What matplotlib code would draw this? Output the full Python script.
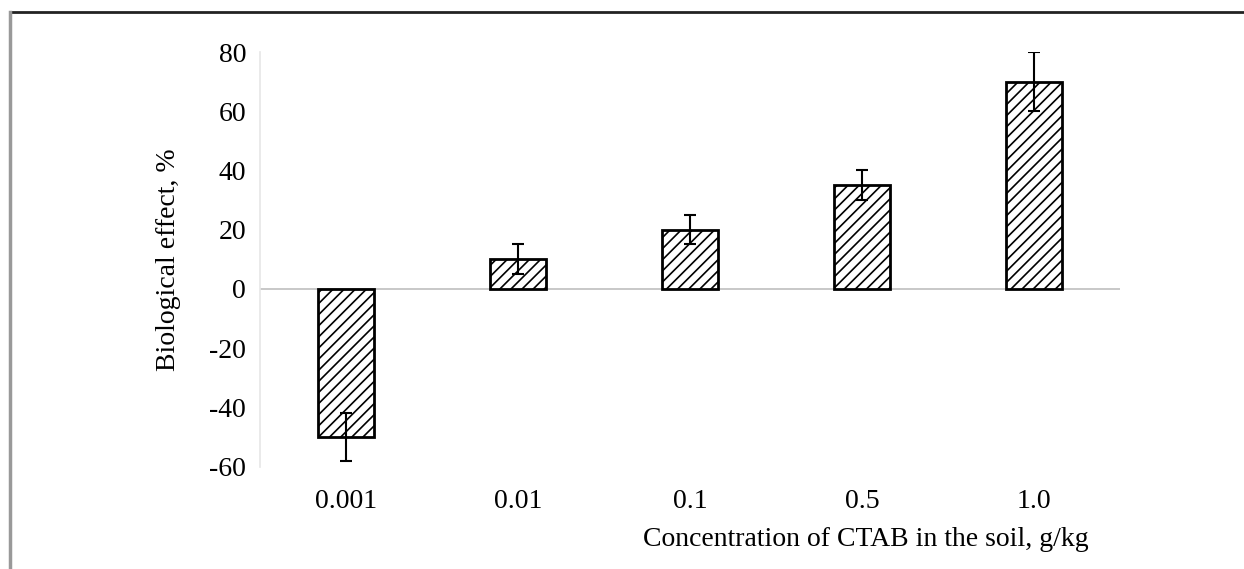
import matplotlib
matplotlib.use("Agg")
import matplotlib.pyplot as plt
from matplotlib.lines import Line2D

categories = ["0.001", "0.01", "0.1", "0.5", "1.0"]
values = [-50, 10, 20, 35, 70]
errors = [8, 5, 5, 5, 10]
y_ticks = [-60, -40, -20, 0, 20, 40, 60, 80]

plt.rcParams['font.family'] = ['Liberation Serif', 'DejaVu Serif']
plt.rcParams['hatch.linewidth'] = 1.2

fs = 20

fig = plt.figure(figsize=(12.44, 5.69), dpi=100)
ax = fig.add_axes([0.209, 0.18, 0.6913, 0.7286])

x = list(range(len(categories)))
ax.bar(x, values, width=0.33, color='white', edgecolor='black', linewidth=2,
       hatch='///', zorder=2)
ax.errorbar(x, values, yerr=errors, fmt='none', ecolor='black', elinewidth=1.5,
            capsize=4, capthick=1.5, zorder=3)

ax.set_xlim(-0.5, len(categories) - 0.5)
ax.set_ylim(-60, 80)
ax.set_yticks(y_ticks)
ax.set_yticklabels([str(v) for v in y_ticks], fontsize=fs)
ax.set_xticks(x)
ax.set_xticklabels(categories, fontsize=fs)
ax.tick_params(axis='both', length=0)
ax.tick_params(axis='y', pad=10)
ax.tick_params(axis='x', pad=0)
ax.axhline(0, color='#bfbfbf', linewidth=1.2, zorder=1)

for s in ['top', 'right', 'bottom']:
    ax.spines[s].set_visible(False)
ax.spines['left'].set_color('#e6e6e6')
ax.spines['left'].set_linewidth(1.2)

for lbl in ax.get_xticklabels():
    lbl.set_y(-0.055)

ax.set_ylabel("Biological effect, %", fontsize=fs, labelpad=20)
fig.text(0.696, 0.052, "Concentration of CTAB in the soil, g/kg", fontsize=fs,
         ha='center', va='center')

fig.add_artist(Line2D([0.008, 1.0], [0.979, 0.979], color='#222222', linewidth=2,
                      transform=fig.transFigure))
fig.add_artist(Line2D([0.008, 0.008], [0.0, 0.979], color='#999999', linewidth=2.5,
                      transform=fig.transFigure))

fig.savefig("out.png", dpi=100)
